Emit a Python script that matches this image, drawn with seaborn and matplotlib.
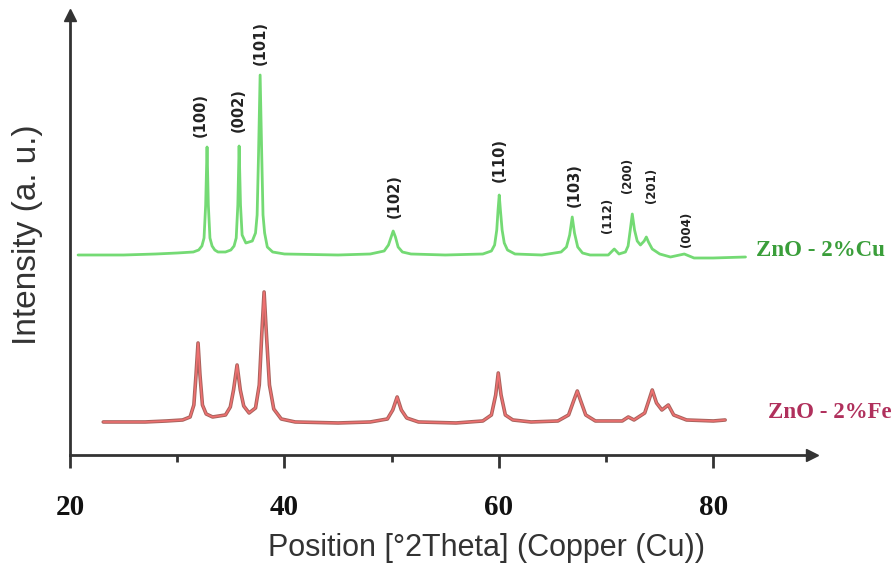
import numpy as np
import pandas as pd
import matplotlib
matplotlib.use("Agg")
import matplotlib.pyplot as plt
import seaborn as sns

# XRD pattern of ZnO - 2%Cu (2theta, intensity a.u.)
cu_theta = [20.75, 25, 28, 30, 31.5, 32.0, 32.3, 32.5, 32.65, 32.78, 32.9, 33.05, 33.25, 33.5, 33.8,
            34.5, 35.0, 35.3, 35.5, 35.65, 35.77, 35.9, 36.05, 36.4, 37.0, 37.3, 37.45, 37.58, 37.73,
            37.88, 38.0, 38.15, 38.4, 38.9, 40, 45, 48, 49.3, 49.7, 49.95, 50.14, 50.35, 50.6, 51.0,
            51.8, 55, 58.5, 59.3, 59.6, 59.8, 59.92, 60.03, 60.14, 60.3, 60.5, 60.8, 61.5, 64, 65.8,
            66.3, 66.6, 66.84, 67.05, 67.35, 67.8, 68.5, 70.2, 70.76, 71.2, 71.8, 72.05, 72.25,
            72.44, 72.65, 72.9, 73.2, 73.55, 73.75, 73.95, 74.3, 75, 76, 77.29, 78.2, 80, 83.0]
cu_int = [200, 200, 201, 202, 203, 205, 209, 217, 250, 308, 250, 217, 209, 205, 203,
          203, 205, 209, 217, 250, 309, 250, 220, 212, 214, 222, 240, 300, 380,
          300, 240, 222, 208, 203, 201, 200, 201, 204, 210, 218, 224, 218, 208, 203,
          201, 200, 201, 204, 210, 225, 245, 260, 245, 225, 212, 205, 201, 200, 203,
          208, 220, 238, 222, 208, 202, 200, 200, 206, 201, 203, 209, 225,
          241, 225, 214, 210, 214, 218, 213, 206, 201, 198, 201, 197, 197, 198]

# XRD pattern of ZnO - 2%Fe
fe_theta = [23.1, 27, 29, 30.5, 31.2, 31.55, 31.75, 31.94, 32.12, 32.35, 32.7, 33.3, 34.5,
            34.95, 35.25, 35.58, 35.88, 36.2, 36.7, 37.3, 37.65, 37.88, 38.1, 38.32, 38.6,
            39, 39.7, 41, 45, 48, 49.6, 50.1, 50.51, 50.9, 51.4, 52.5, 56, 58.5, 59.3,
            59.7, 59.94, 60.2, 60.6, 61.3, 63, 65.5, 66.5, 67.0, 67.31, 67.6, 68.1, 69,
            71.5, 72.07, 72.6, 73.6, 74.0, 74.3, 74.7, 75.2, 75.8, 76.3, 77.5, 80, 81.1]
fe_int = [33, 33, 34, 35, 38, 50, 80, 112, 80, 50, 41, 38, 40,
          48, 65, 90, 65, 49, 42, 47, 70, 120, 163, 120, 70,
          46, 36, 33, 32, 33, 36, 45, 58, 45, 37, 33, 32, 34, 40,
          60, 82, 60, 40, 35, 33, 34, 40, 55, 64, 55, 40, 34,
          34, 38, 35, 42, 55, 65, 52, 45, 50, 40, 35, 34, 35]

# Miller indices and where their labels sit
hkl = ["(100)", "(002)", "(101)", "(102)", "(110)", "(103)", "(112)", "(200)", "(201)", "(004)"]
hkl_x = [32.13, 35.68, 37.73, 50.23, 60.03, 67.03, 70.11, 71.97, 74.21, 77.48]
hkl_y = [318, 323, 390, 237, 273, 248, 222, 262, 252, 208]
hkl_small = [False, False, False, False, False, False, True, True, True, True]

cu = pd.DataFrame({"theta": cu_theta, "intensity": cu_int})
fe = pd.DataFrame({"theta": fe_theta, "intensity": fe_int})

sns.set_style("white")
plt.rcParams["font.family"] = ["Liberation Sans", "DejaVu Sans"]

fig = plt.figure(figsize=(8.92, 5.69), dpi=100)
ax = fig.add_axes([0.0785, 0.2004, 0.8318, 0.7732])

sns.lineplot(data=cu, x="theta", y="intensity", color="#74da74", lw=2.0,
             estimator=None, sort=False, ax=ax)
sns.lineplot(data=fe, x="theta", y="intensity", color="#a8625c", lw=2.6,
             estimator=None, sort=False, ax=ax)
sns.lineplot(data=fe, x="theta", y="intensity", color="#ee7070", lw=1.2,
             estimator=None, sort=False, ax=ax)

for lab, px, py, small in zip(hkl, hkl_x, hkl_y, hkl_small):
    ax.text(px, py, lab, rotation=90, ha="center", va="bottom",
            fontsize=8.5 if small else 10.5, fontweight="bold",
            family="DejaVu Sans", color="#222222")

ax.text(84.0, 204, "ZnO - 2%Cu", ha="left", va="center", fontsize=16.5,
        fontweight="bold", family="Liberation Serif", color="#3a9e3a")
ax.text(85.1, 42, "ZnO - 2%Fe", ha="left", va="center", fontsize=16.5,
        fontweight="bold", family="Liberation Serif", color="#b0305c")

ax.set_xlim(20, 89.2)
ax.set_ylim(0, 440)
ax.set_xticks([20, 40, 60, 80])
ax.set_xticks([30, 50, 70], minor=True)
ax.set_yticks([])
ax.set_xlabel("")
ax.set_ylabel("")
ax.tick_params(axis="x", which="major", direction="out", length=9, width=2,
               color="#333333", pad=19, bottom=True)
ax.tick_params(axis="x", which="minor", direction="out", length=5, width=2,
               color="#333333", bottom=True)
for t in ax.get_xticklabels():
    t.set_fontfamily("Liberation Serif")
    t.set_fontweight("bold")
    t.set_fontsize(21)
    t.set_color("#111111")

for side in ["top", "right"]:
    ax.spines[side].set_visible(False)
for side in ["left", "bottom"]:
    ax.spines[side].set_color("#333333")
    ax.spines[side].set_linewidth(2)
ax.plot(1, 0, marker=">", ms=8, color="#333333", transform=ax.transAxes, clip_on=False)
ax.plot(0, 1, marker="^", ms=8, color="#333333", transform=ax.transAxes, clip_on=False)

fig.text(28 / 892, 1 - 235 / 569, "Intensity (a. u.)", rotation=90,
         ha="center", va="center", fontsize=24, color="#333333")
fig.text(486 / 892, 1 - 548 / 569, "Position [°2Theta] (Copper (Cu))",
         ha="center", va="center", fontsize=22, color="#333333")

fig.savefig("out.png", dpi=100)
